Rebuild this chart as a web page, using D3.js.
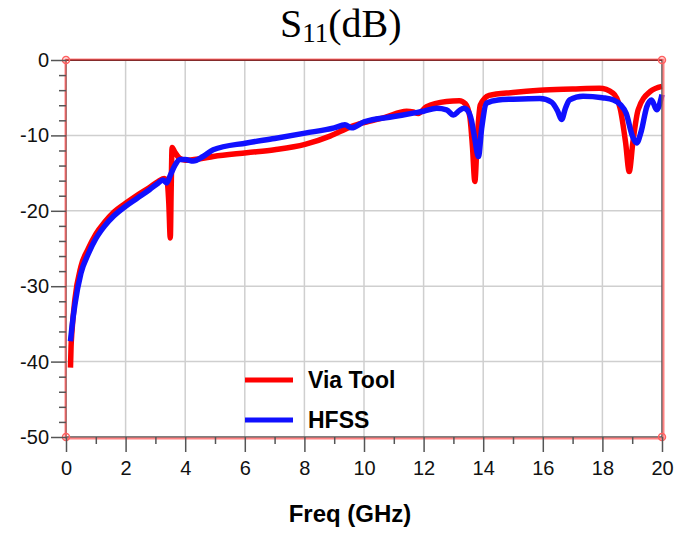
<!DOCTYPE html>
<html><head><meta charset="utf-8">
<script src="https://cdn.jsdelivr.net/npm/d3@7/dist/d3.min.js"></script>
<style>body{margin:0;background:#fff;} svg{display:block;}</style>
</head><body>
<svg id="chart" width="677" height="533"></svg>
<script>
const xTicks = [0,2,4,6,8,10,12,14,16,18,20];
const yTicks = [0,-10,-20,-30,-40,-50];

const viaFreq = [0.15,0.17,0.2,0.3,0.5,0.75,1.0,1.3,1.6,2.0,2.4,2.8,3.1,3.3,3.4,3.45,3.5,3.53,3.56,3.65,3.8,4.0,4.5,4.94,6.06,7.0,8.02,8.86,9.59,10.0,10.7,11.43,11.65,11.82,12.1,12.77,13.2,13.4,13.55,13.64,13.72,13.8,13.9,14.2,15.0,15.9,17.0,17.9,18.36,18.6,18.78,18.9,19.02,19.2,19.6,20.0];
const viaDb   = [-40.8,-38.0,-36.0,-31.7,-27.4,-25.0,-23.1,-21.5,-20.2,-19.0,-17.9,-16.9,-16.1,-15.7,-16.3,-19.0,-23.6,-17.0,-11.6,-12.2,-13.0,-13.3,-13.1,-12.8,-12.3,-11.9,-11.2,-10.1,-8.8,-8.3,-7.6,-6.8,-6.9,-7.1,-6.2,-5.5,-5.4,-5.8,-7.5,-11.5,-16.1,-10.5,-6.0,-4.7,-4.3,-4.0,-3.85,-3.75,-4.4,-6.5,-11.0,-14.8,-11.0,-6.6,-4.2,-3.5];

const hfssFreq = [0.15,0.2,0.3,0.5,0.75,1.0,1.3,1.6,2.0,2.4,2.8,3.1,3.25,3.38,3.5,3.65,3.83,4.0,4.27,4.6,4.94,6.06,7.0,8.02,9.0,9.36,9.59,10.0,11.0,11.65,12.0,12.44,12.77,13.0,13.2,13.35,13.5,13.6,13.72,13.84,13.95,14.12,14.5,15.0,15.9,16.3,16.5,16.63,16.76,16.9,17.35,18.0,18.37,18.6,18.8,19.0,19.15,19.3,19.49,19.65,19.82,20.0];
const hfssDb   = [-37.3,-35.4,-32.4,-28.3,-25.7,-23.7,-22.0,-20.7,-19.4,-18.3,-17.2,-16.3,-15.9,-16.3,-15.3,-14.0,-13.2,-13.2,-13.4,-12.8,-11.9,-11.0,-10.4,-9.7,-9.0,-8.6,-9.0,-8.2,-7.5,-7.05,-6.8,-6.4,-6.6,-7.3,-6.7,-6.4,-6.8,-7.9,-10.5,-12.8,-9.0,-5.7,-5.3,-5.2,-5.1,-5.6,-6.8,-7.9,-6.4,-5.3,-4.8,-5.0,-5.3,-5.9,-7.1,-10.0,-11.0,-9.5,-6.2,-5.3,-6.6,-4.6];

const series = [
  {name:"Via Tool", color:"#ff0000", x:viaFreq, y:viaDb},
  {name:"HFSS", color:"#1010ff", x:hfssFreq, y:hfssDb}
];

const svg = d3.select("#chart");
const L = 66, R = 662, T = 60, B = 437;
const x = d3.scaleLinear().domain([0,20]).range([L,R]);
const y = d3.scaleLinear().domain([-50,0]).range([B,T]);

// grid
const g = svg.append("g");
g.selectAll(".gx").data(xTicks.slice(1,-1)).join("line")
  .attr("x1",d=>x(d)).attr("x2",d=>x(d)).attr("y1",T).attr("y2",B)
  .attr("stroke","#cfcfcf").attr("stroke-width",1.5);
g.selectAll(".gy").data(yTicks.slice(1,-1)).join("line")
  .attr("x1",L).attr("x2",R).attr("y1",d=>y(d)).attr("y2",d=>y(d))
  .attr("stroke","#cfcfcf").attr("stroke-width",1.5);

// curves
const line = d3.line().x(d=>x(d[0])).y(d=>y(d[1])).curve(d3.curveMonotoneX);
series.forEach(s=>{
  const pts = s.x.map((v,i)=>[v,s.y[i]]);
  svg.append("path").attr("d",line(pts)).attr("fill","none")
    .attr("stroke",s.color).attr("stroke-width",5.5).attr("stroke-linejoin","round");
});

// frame
svg.append("rect").attr("x",L).attr("y",T).attr("width",R-L).attr("height",B-T)
  .attr("fill","none").attr("stroke","#555").attr("stroke-width",1.5);
svg.append("line").attr("x1",L).attr("x2",R).attr("y1",T).attr("y2",T).attr("stroke","#3a1010").attr("stroke-width",2);
svg.append("rect").attr("x",L-0.5).attr("y",T-0.5).attr("width",R-L+2).attr("height",B-T+2)
  .attr("fill","none").attr("stroke","#ff5a5a").attr("stroke-opacity",0.75).attr("stroke-width",2);
[[L,T],[R,T],[L,B],[R,B]].forEach(c=>{
  svg.append("circle").attr("cx",c[0]).attr("cy",c[1]).attr("r",3.5)
    .attr("fill","none").attr("stroke","#ff6060").attr("stroke-width",1.5);
});

// axes
const fmt = d => String(d);
const xAxis = d3.axisBottom(x).tickValues(xTicks).tickSize(15).tickPadding(4).tickFormat(fmt);
const xMinor = d3.axisBottom(x).tickValues(d3.range(1,20,2)).tickSize(7).tickFormat("");
const yAxis = d3.axisLeft(y).tickValues(yTicks).tickSize(15).tickPadding(2).tickFormat(fmt);
const yMinor = d3.axisLeft(y).tickValues(d3.range(-50,0,2).filter(v=>v%10!==0)).tickSize(7).tickFormat("");

function style(sel){
  sel.select(".domain").remove();
  sel.selectAll(".tick line").attr("stroke","#555").attr("stroke-width",1.5);
  sel.selectAll("text").attr("fill","#111").style("font-family","'Liberation Sans',Arial,sans-serif").style("font-size","20px");
}
svg.append("g").attr("transform",`translate(0,${B})`).call(xAxis).call(style).selectAll("text").attr("dy","0.95em");
svg.append("g").attr("transform",`translate(0,${B})`).call(xMinor).call(style);
svg.append("g").attr("transform",`translate(${L},0)`).call(yAxis).call(style);
svg.append("g").attr("transform",`translate(${L},0)`).call(yMinor).call(style);

// axis label
svg.append("text").attr("x",350).attr("y",522).attr("text-anchor","middle")
  .style("font-family","'Liberation Sans',Arial,sans-serif").style("font-size","24px").style("font-weight","bold")
  .text("Freq (GHz)");

// title
const title = svg.append("text").attr("x",280).attr("y",37)
  .style("font-family","'Liberation Serif','Times New Roman',serif").style("font-size","40px").attr("fill","#000");
title.append("tspan").text("S");
title.append("tspan").attr("dy",5).style("font-size","27px").text("11");
title.append("tspan").attr("dy",-5).text("(dB)");

// legend
const leg = svg.append("g");
series.forEach((s,i)=>{
  const yy = 380 + i*40;
  leg.append("line").attr("x1",245).attr("x2",293).attr("y1",yy).attr("y2",yy)
    .attr("stroke",s.color).attr("stroke-width",5);
  leg.append("text").attr("x",308).attr("y",yy+8)
    .style("font-family","'Liberation Sans',Arial,sans-serif").style("font-size","23px").style("font-weight","bold")
    .text(s.name);
});
</script>
</body></html>
